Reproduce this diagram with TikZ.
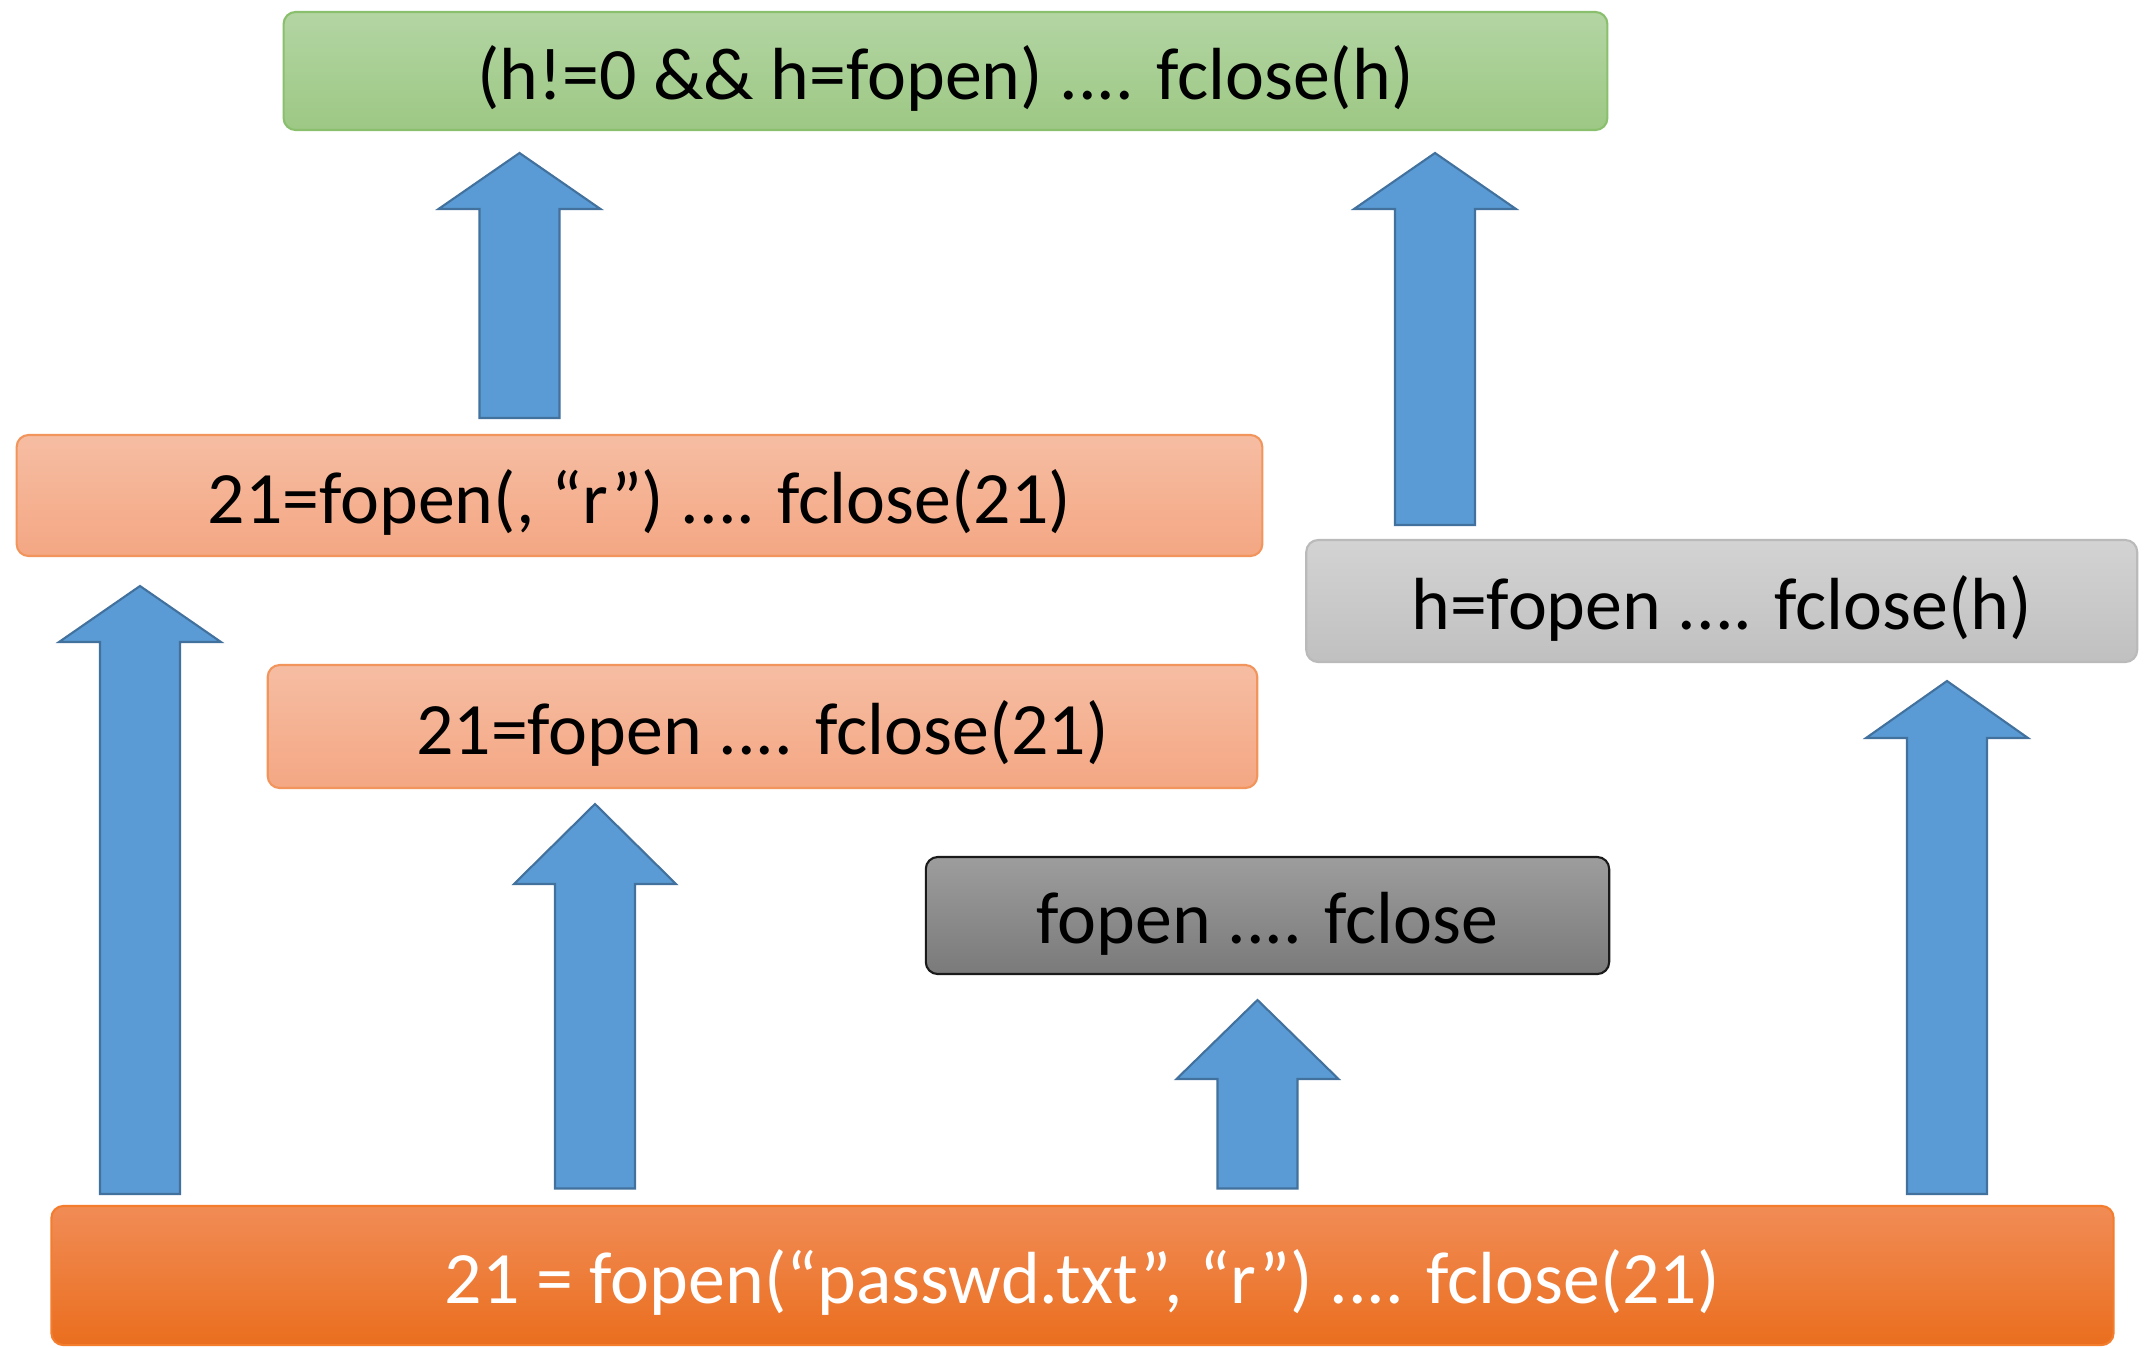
\documentclass[tikz,border=0pt]{standalone}
\usepackage{fontspec}
\setmainfont{Carlito}
\pgfdeclarelayer{background}
\pgfsetlayers{background,main}
\definecolor{greenTop}{HTML}{B3D5A3}
\definecolor{greenBot}{HTML}{9DC884}
\definecolor{greenLine}{HTML}{8AC06D}
\definecolor{orTop}{HTML}{F6BDA3}
\definecolor{orBot}{HTML}{F4A783}
\definecolor{orLine}{HTML}{F1955C}
\definecolor{gyTop}{HTML}{D3D3D3}
\definecolor{gyBot}{HTML}{C0C0C0}
\definecolor{gyLine}{HTML}{BABABA}
\definecolor{dgTop}{HTML}{9D9D9D}
\definecolor{dgBot}{HTML}{7A7A7A}
\definecolor{dgLine}{HTML}{1A1A1A}
\definecolor{boTop}{HTML}{F18C56}
\definecolor{boMid}{HTML}{F37D2C}
\definecolor{boBot}{HTML}{EA6E1E}
\definecolor{arFill}{HTML}{5B9BD5}
\definecolor{arLine}{HTML}{41719C}
\newcommand\uparr[4]{\draw[blockarrow] ({#1-40},#2) -- ({#1-40},{#3+#4}) -- ({#1-81},{#3+#4}) -- (#1,#3) -- ({#1+81},{#3+#4}) -- ({#1+40},{#3+#4}) -- ({#1+40},#2) -- cycle;}
\newcommand\softshadow[1]{%
  \foreach \e in {0,0.6,1.2,1.8,2.4,3.0}{%
    \fill[black, fill opacity=0.06, rounded corners=4pt]
      ([xshift={2pt-\e pt}, yshift={-1.5pt-\e pt}]#1.south west) rectangle
      ([xshift={1pt+\e pt}, yshift={-3pt}]#1.north east);}}
\begin{document}
\begin{tikzpicture}[x=0.01cm,y=-0.01cm,
  box/.style={rectangle, rounded corners=0.12cm, inner sep=0pt, line width=0.6pt,
    text height=0.64cm, text depth=0.08cm, font=\fontsize{21}{25}\selectfont, shading angle=0},
  greenbox/.style={box, draw=greenLine, top color=greenTop, bottom color=greenBot},
  orangebox/.style={box, draw=orLine, top color=orTop, bottom color=orBot},
  lgraybox/.style={box, draw=gyLine, top color=gyTop, bottom color=gyBot},
  dgraybox/.style={box, draw=dgLine, top color=dgTop, bottom color=dgBot},
  basebox/.style={box, draw=boMid, top color=boTop, middle color=boMid, bottom color=boBot, text=white},
  blockarrow/.style={fill=arFill, draw=arLine, line width=0.6pt, line join=miter}]
\useasboundingbox (0,0) rectangle (2144,1347);
\fill[white] (0,0) rectangle (2144,1347);

\node[greenbox, minimum width=13.23cm, minimum height=1.18cm] (top) at (945.5,71)
  {(h!=0 \&\& h=fopen) .... fclose(h)};
\node[orangebox, minimum width=12.45cm, minimum height=1.21cm] (or1) at (639.5,495.5)
  {21=fopen(, “r”) .... fclose(21)};
\node[orangebox, minimum width=9.89cm, minimum height=1.23cm] (or2) at (762.5,726.5)
  {21=fopen .... fclose(21)};
\node[lgraybox, minimum width=8.305cm, minimum height=1.22cm] (lg) at (1721.75,601)
  {h=fopen .... fclose(h)};
\node[dgraybox, minimum width=6.83cm, minimum height=1.17cm] (dg) at (1267.5,915.5)
  {fopen .... fclose};
\node[basebox, minimum width=20.61cm, minimum height=1.39cm] (base) at (1082.5,1275.5)
  {21 = fopen(“passwd.txt”, “r”) .... fclose(21)};

\begin{pgfonlayer}{background}
  \softshadow{top}
  \softshadow{or1}
  \softshadow{or2}
  \softshadow{lg}
  \softshadow{dg}
\end{pgfonlayer}

\uparr{519.5}{418}{153}{56}
\uparr{140}{1194}{586}{56}
\uparr{1435}{525}{153}{56}
\uparr{595}{1188.5}{804}{80}
\uparr{1257.5}{1188.5}{1000}{79}
\uparr{1947}{1194}{681}{57}
\end{tikzpicture}
\end{document}
